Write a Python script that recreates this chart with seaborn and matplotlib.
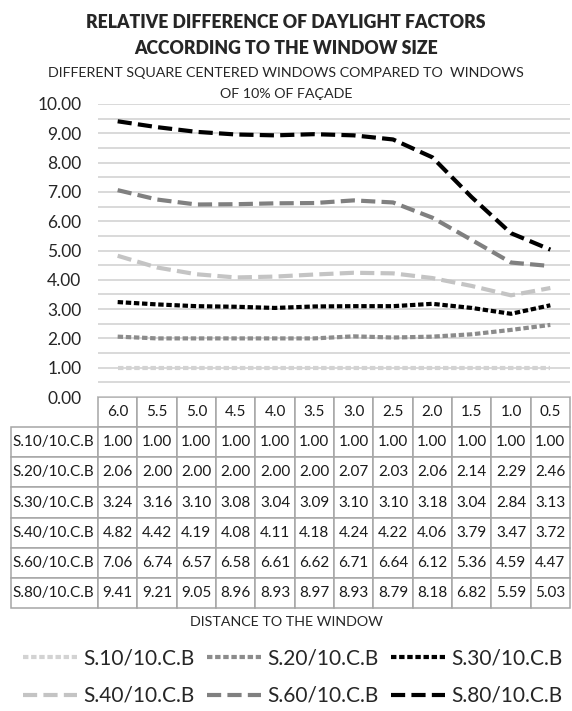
import seaborn as sns
import matplotlib.pyplot as plt
import pandas as pd
import numpy as np
from matplotlib.lines import Line2D

distances = ["6.0", "5.5", "5.0", "4.5", "4.0", "3.5", "3.0", "2.5", "2.0", "1.5", "1.0", "0.5"]
s10 = [1.00, 1.00, 1.00, 1.00, 1.00, 1.00, 1.00, 1.00, 1.00, 1.00, 1.00, 1.00]
s20 = [2.06, 2.00, 2.00, 2.00, 2.00, 2.00, 2.07, 2.03, 2.06, 2.14, 2.29, 2.46]
s30 = [3.24, 3.16, 3.10, 3.08, 3.04, 3.09, 3.10, 3.10, 3.18, 3.04, 2.84, 3.13]
s40 = [4.82, 4.42, 4.19, 4.08, 4.11, 4.18, 4.24, 4.22, 4.06, 3.79, 3.47, 3.72]
s60 = [7.06, 6.74, 6.57, 6.58, 6.61, 6.62, 6.71, 6.64, 6.12, 5.36, 4.59, 4.47]
s80 = [9.41, 9.21, 9.05, 8.96, 8.93, 8.97, 8.93, 8.79, 8.18, 6.82, 5.59, 5.03]
series_names = ["S.10/10.C.B", "S.20/10.C.B", "S.30/10.C.B",
                "S.40/10.C.B", "S.60/10.C.B", "S.80/10.C.B"]
series_values = [s10, s20, s30, s40, s60, s80]

colors = ["#d3d3d3", "#8c8c8c", "#000000", "#c4c4c4", "#808080", "#000000"]
dot = (1.3, 0.65)
dash = (3.4, 1.5)
patterns = [dot, dot, dot, dash, dash, dash]
lw = 3.0

sns.set_style("white")
plt.rcParams["font.family"] = ["Lato", "DejaVu Sans"]

fig = plt.figure(figsize=(5.72, 7.11), dpi=100)
ax = fig.add_axes([98 / 572, 1 - 397 / 711, 472 / 572, 293 / 711])

x = np.arange(len(distances))
handles = []
for name, vals, c, p in zip(series_names, series_values, colors, patterns):
    df = pd.DataFrame({"pos": x, "val": vals})
    sns.lineplot(data=df, x="pos", y="val", ax=ax, color=c, linewidth=lw, legend=False)
    ln = ax.lines[-1]
    ln.set_dashes(p)
    ln.set_dash_capstyle("butt")
    h = Line2D([], [], color=c, linewidth=lw, dashes=p)
    h.set_dash_capstyle("butt")
    handles.append(h)

ax.set_xlim(-0.5, len(distances) - 0.5)
ax.set_ylim(0, 10)
ax.set_yticks(np.arange(0, 10.01, 1.0))
ax.set_yticklabels([f"{v:.2f}" for v in np.arange(0, 10.01, 1.0)], fontsize=12.5)
ax.set_yticks(np.arange(0.5, 10, 1.0), minor=True)
ax.grid(axis="y", which="both", color="#cfcfcf", linewidth=1.1)
ax.tick_params(axis="y", which="both", length=0, pad=12)
ax.set_xticks([])
ax.set_xlabel("")
ax.set_ylabel("")
for s in ax.spines.values():
    s.set_visible(False)

# data table below the plot
cell_text = [[""] + distances]
for name, vals in zip(series_names, series_values):
    cell_text.append([name] + [f"{v:.2f}" for v in vals])
first_w = 87
col_w = 472 / 12
total_w = first_w + 12 * col_w
widths = [first_w / total_w] + [col_w / total_w] * 12
tbl = ax.table(cellText=cell_text, colWidths=widths, cellLoc="center",
               bbox=[-87 / 472, -211 / 293, total_w / 472, 211 / 293])
tbl.auto_set_font_size(False)
tbl.set_fontsize(11)
for (r, c), cell in tbl.get_celld().items():
    cell.set_edgecolor("#a6a6a6")
    cell.set_linewidth(1.1)
    cell.get_text().set_color("#1a1a1a")
    if r == 0 and c == 0:
        cell.visible_edges = ""
    if c == 0 and r > 0:
        cell.get_text().set_ha("left")
        cell.PAD = 0.02

fig.text(0.5, 1 - 22 / 711, "RELATIVE DIFFERENCE OF DAYLIGHT FACTORS", ha="center",
         va="center", fontsize=12.7, fontweight="heavy")
fig.text(0.5, 1 - 48 / 711, "ACCORDING TO THE WINDOW SIZE", ha="center",
         va="center", fontsize=12.7, fontweight="heavy")
fig.text(0.5, 1 - 73 / 711, "DIFFERENT SQUARE CENTERED WINDOWS COMPARED TO  WINDOWS",
         ha="center", va="center", fontsize=10.3)
fig.text(0.5, 1 - 94 / 711, "OF 10% OF FAÇADE", ha="center", va="center", fontsize=10.3)
fig.text(0.5, 1 - 622 / 711, "DISTANCE TO THE WINDOW", ha="center", va="center",
         fontsize=10.3)

# legend filled row by row (fig.legend fills columns first)
order = [0, 3, 1, 4, 2, 5]
fig.legend([handles[i] for i in order], [series_names[i] for i in order],
           loc="center", ncol=3, frameon=False,
           bbox_to_anchor=(0.512, 1 - 677 / 711), fontsize=15, handlelength=2.6,
           handletextpad=0.3, columnspacing=0.6, labelspacing=0.85)

fig.savefig("out.png", dpi=100)
